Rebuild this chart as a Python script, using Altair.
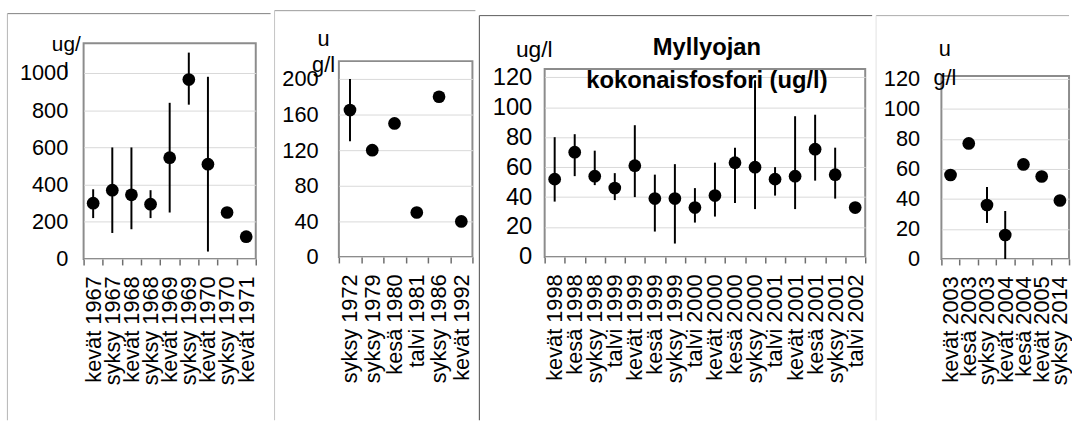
import altair as alt
import pandas as pd

FONT = "Liberation Sans"

# --- Myllyoja, total phosphorus (ug/l): season labels, means and min/max ranges ---
labels_6771 = ["kevät 1967", "syksy 1967", "kevät 1968", "syksy 1968", "kevät 1969",
               "syksy 1969", "kevät 1970", "syksy 1970", "kevät 1971"]
tp_6771 = [300, 370, 345, 295, 545, 965, 510, 250, 120]
low_6771 = [220, 140, 160, 220, 250, 830, 40, None, None]
high_6771 = [375, 600, 600, 370, 840, 1110, 980, None, None]
ticks_6771 = [0, 200, 400, 600, 800, 1000]

labels_7292 = ["syksy 1972", "syksy 1979", "kesä 1980", "talvi 1981", "syksy 1986", "kevät 1992"]
tp_7292 = [165, 120, 150, 50, 180, 40]
low_7292 = [130, None, None, None, None, None]
high_7292 = [200, None, None, None, None, None]
ticks_7292 = [0, 40, 80, 120, 160, 200]

labels_9802 = ["kevät 1998", "kesä 1998", "syksy 1998", "talvi 1999", "kevät 1999", "kesä 1999",
               "syksy 1999", "talvi 2000", "kevät 2000", "kesä 2000", "syksy 2000", "talvi 2001",
               "kevät 2001", "kesä 2001", "syksy 2001", "talvi 2002"]
tp_9802 = [52, 70, 54, 46, 61, 39, 39, 33, 41, 63, 60, 52, 54, 72, 55, 33]
low_9802 = [37, 54, 48, 38, 40, 17, 9, 23, 27, 36, 32, 41, 32, 51, 39, None]
high_9802 = [80, 82, 71, 56, 88, 55, 62, 46, 63, 73, 118, 60, 94, 95, 73, None]
ticks_9802 = [0, 20, 40, 60, 80, 100, 120]
title_9802 = ["Myllyojan", "kokonaisfosfori (ug/l)"]

labels_0314 = ["kevät 2003", "kesä 2003", "syksy 2003", "kevät 2004", "kesä 2004",
               "kevät 2005", "syksy 2014"]
tp_0314 = [56, 77, 36, 16, 63, 55, 39]
low_0314 = [None, None, 24, 0, None, None, None]
high_0314 = [None, None, 48, 32, None, None, None]
ticks_0314 = [0, 20, 40, 60, 80, 100, 120]

one_row = pd.DataFrame({"k": [0]})


def hline(x1, x2, y, color, opacity=1):
    return alt.Chart(one_row).mark_rule(color=color, strokeWidth=1, strokeOpacity=opacity).encode(
        x=alt.value(x1), x2=alt.value(x2), y=alt.value(y))


def vline(x, y1, y2, color):
    return alt.Chart(one_row).mark_rule(color=color, strokeWidth=1).encode(
        x=alt.value(x), y=alt.value(y1), y2=alt.value(y2))


def spacer(width, height):
    return alt.Chart(one_row).mark_point(opacity=0, size=1).encode(
        x=alt.value(width / 2), y=alt.value(height)
    ).properties(width=width, height=height, view=alt.ViewBackground(stroke="transparent"))


def panel(labels, tp, low, high, ticks, ymax, width, height, box, ytitle, tx, ty, tlh,
          tsize, ylab_size, ylab_pad, heading=None):
    df = pd.DataFrame({"kausi": labels, "tp": tp, "low": low, "high": high})
    err = df.dropna(subset=["low"])

    xenc = alt.X("kausi:N", sort=labels, title=None,
                 scale=alt.Scale(type="band", paddingInner=0, paddingOuter=0),
                 axis=alt.Axis(labelAngle=-90, labelFontSize=22, labelPadding=11,
                               labelColor="black", tickBand="extent", tickSize=6,
                               tickColor="#6e6e6e", tickWidth=1.5, domain=False))
    yscale = alt.Scale(domain=[0, ymax], nice=False, zero=True)
    yaxis = alt.Axis(values=ticks, format="d", ticks=False, domain=False, grid=True,
                     gridColor="#d9d9d9", labelFontSize=ylab_size, labelPadding=ylab_pad,
                     labelColor="black", title=ytitle, titleAngle=0, titleAlign="center",
                     titleBaseline="alphabetic", titleX=tx, titleY=ty, titleFontSize=tsize,
                     titleFontWeight="normal", titleLineHeight=tlh, titleColor="black")

    bars = alt.Chart(err).mark_rule(color="black", strokeWidth=2).encode(
        x=xenc, y=alt.Y("low:Q", scale=yscale, axis=yaxis), y2="high:Q")
    dots = alt.Chart(df).mark_circle(size=165, color="black", opacity=1).encode(
        x=xenc, y=alt.Y("tp:Q", scale=yscale, axis=yaxis))

    top_y, left_x, right_x, anchor_y, top_col, left_col = box
    layers = [
        hline(0, width, anchor_y, "white", 0),
        hline(left_x, right_x, top_y, top_col),
        vline(left_x, top_y, 414 + anchor_y, left_col),
        bars,
        dots,
    ]
    if heading is not None:
        layers.append(
            alt.Chart(one_row).mark_text(
                text=heading, font=FONT, fontSize=24, fontWeight="bold", color="black",
                align="center", baseline="alphabetic", lineHeight=33
            ).encode(x=alt.value(width / 2 + 2), y=alt.value(-14))
        )
    return alt.layer(*layers).properties(width=width, height=height)


def column(chart, width, offset):
    return alt.vconcat(spacer(width, offset), chart, spacing=0, bounds="flush")


# plot origins (absolute): 83/43, 338/61, 543/69, 941/76
p1 = panel(labels_6771, tp_6771, low_6771, high_6771, ticks_6771, 1160, 174, 218,
           (-30, -77, 189, -33, "#7f7f7f", "#b4b4b4"),
           ["ug/", "l"], -18, 7, 27, 21, 22, 16)
p2 = panel(labels_7292, tp_7292, low_7292, high_7292, ticks_7292, 220, 135, 198,
           (-51, -65, 138, -51, "#9a9a9a", "#c4c4c4"),
           ["u", "g/l"], -16, -16, 27, 22, 22, 21)
p3 = panel(labels_9802, tp_9802, low_9802, high_9802, ticks_9802, 125.5, 324, 190,
           (-54, -66, 331, -59, "#5a5a5a", "#4a4a4a"),
           "ug/l", -11, -13, 27, 23, 24, 13, heading=title_9802)
p4 = panel(labels_0314, tp_0314, low_0314, high_0314, ticks_0314, 122, 129, 185,
           (-61, -66, 129, -66, "#ababab", "#e2e2e2"),
           ["u", "g/l"], 3, -21, 30, 22, 22, 22)

chart = alt.hconcat(
    column(p1, 174, 33),
    column(p2, 135, 51),
    column(p3, 324, 59),
    column(p4, 129, 66),
    spacing=0,
).properties(
    padding={"left": 5.5, "top": 6.5, "right": 0, "bottom": 0}
).configure_view(
    stroke="#8c8c8c", strokeWidth=2
).configure_axis(
    labelFont=FONT, titleFont=FONT
).configure_title(
    font=FONT
)

chart.save("out.html", embed_options={"renderer": "svg", "actions": False})
